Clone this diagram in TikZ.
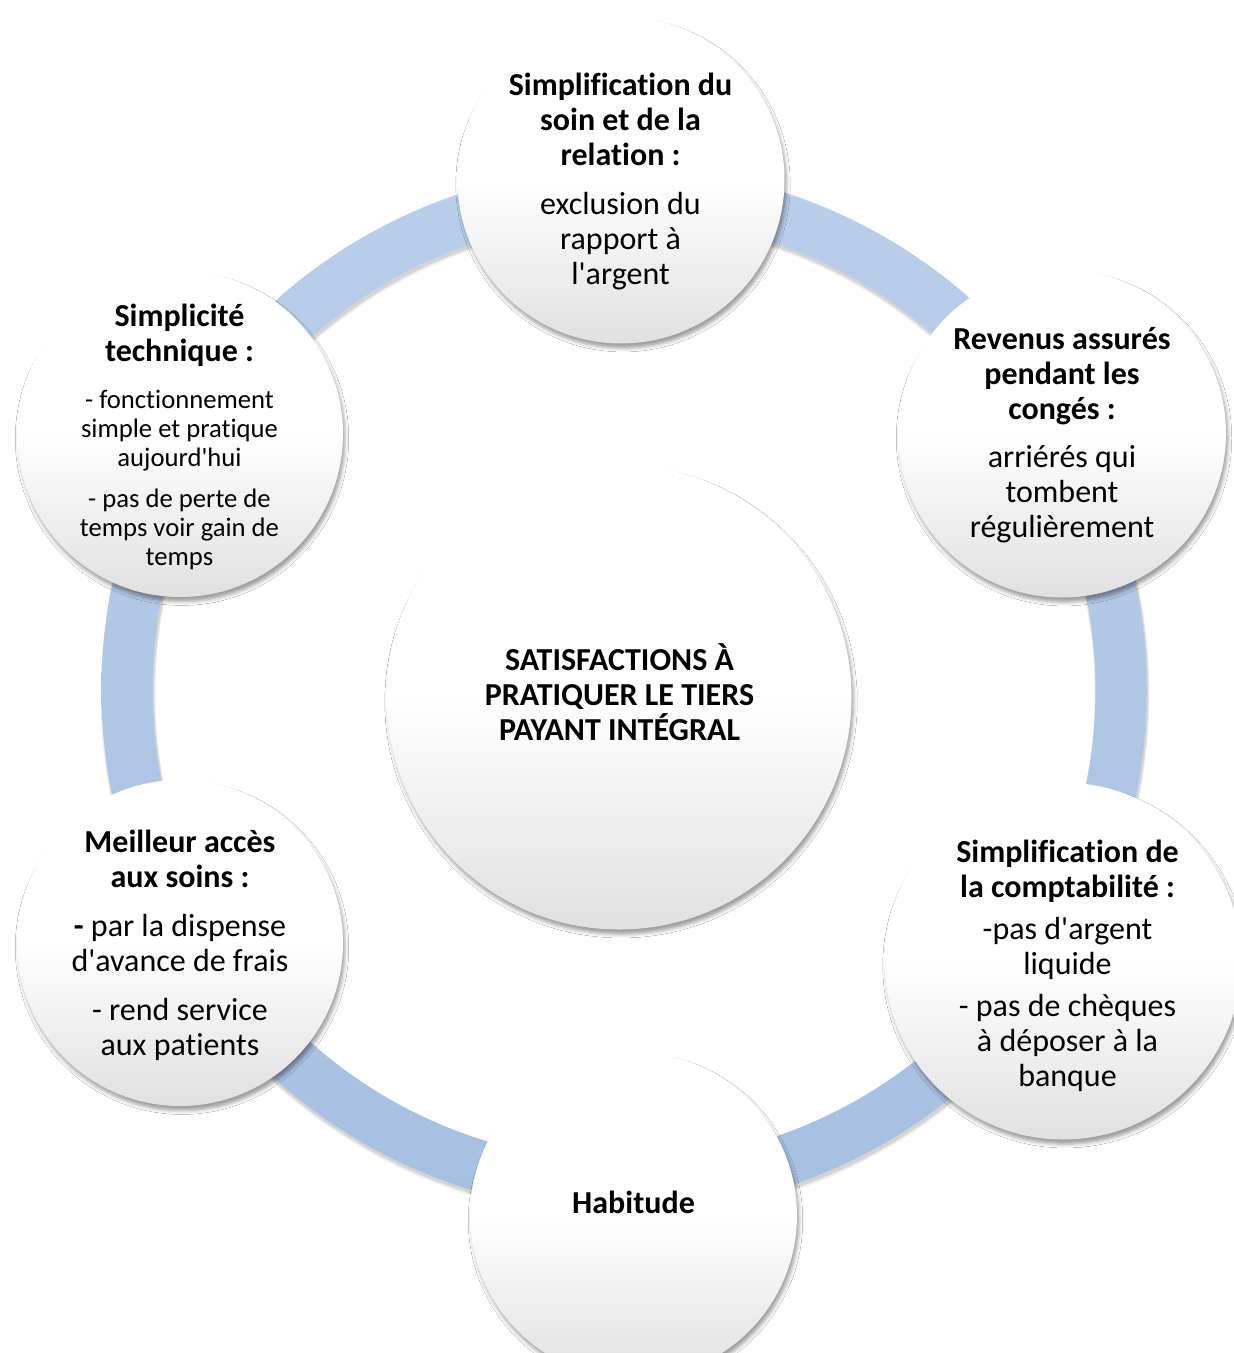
\documentclass[tikz,border=0pt]{standalone}
\usepackage{fontspec}
\setmainfont{Carlito}[Ligatures={TeXOff,NoCommon}]
\usetikzlibrary{shadows.blur}
\definecolor{ringA}{HTML}{B9CEEA}
\definecolor{ringB}{HTML}{A7BFE1}
\newcommand\ftitle{\fontsize{24}{26.25}\selectfont\bfseries}
\newcommand\fbody{\fontsize{24}{26.25}\selectfont}
\newcommand\fsmall{\fontsize{20}{21.75}\selectfont}
\newcommand\bubtext[1]{\parbox[t]{260pt}{\centering #1}}
\tikzset{
  bubble/.style={circle, draw=none, inner sep=0pt,
    top color=white, bottom color=black!12, middle color=white,
    blur shadow={shadow xshift=1.5pt, shadow yshift=-3.5pt, shadow blur radius=2.8pt, shadow opacity=38}},
  txt/.style={anchor=base, inner sep=0pt}
}
\begin{document}
\begin{tikzpicture}[x=0.75pt,y=-0.75pt]
\fill[white] (0,0) rectangle (1234,1353);
\useasboundingbox (0,0) rectangle (1234,1353);
% ring
\coordinate (rc) at (624,690);
\draw[line width=41pt, black, opacity=0.07] ([shift={(1,4)}]rc) circle[radius=372.75pt];
\draw[line width=39.5pt, black, opacity=0.10] ([shift={(1,3)}]rc) circle[radius=372.75pt];
\path[even odd rule, top color=ringA, bottom color=ringB]
  (rc) circle[radius=391.9pt] (rc) circle[radius=353.6pt];
% bubbles
\node[bubble, minimum size=245.25pt] (top) at (621,180) {};
\node[bubble, minimum size=246pt] (ur) at (1062,433.5) {};
\node[bubble, minimum size=267.75pt] (lr) at (1063,961) {};
\node[bubble, minimum size=245.25pt] (bot) at (633.5,1215.5) {};
\node[bubble, minimum size=244.5pt] (ll) at (180,943) {};
\node[bubble, minimum size=244.5pt] (ul) at (180,434) {};
\node[bubble, minimum size=348.75pt] (ctr) at (619,697) {};
% texts
\node[txt] (toptxt) at (620.5,95) {\bubtext{%
  {\ftitle Simplification du\\soin et de la\\relation :\par}\vspace{10.5pt}
  {\fbody exclusion du\\rapport à\\l'argent\par}}};
\node[txt] (urtxt) at (1062,349.5) {\bubtext{%
  {\ftitle Revenus assurés\\pendant les\\congés :\par}\vspace{10pt}
  {\fbody arriérés qui\\tombent\\régulièrement\par}}};
\node[txt] (lrtxt) at (1067.5,862) {\bubtext{%
  {\ftitle Simplification de\\la comptabilité :\par}\vspace{5.5pt}
  {\fbody -pas d'argent\\liquide\par}\vspace{5pt}
  {\fbody - pas de chèques\\à déposer à la\\banque\par}}};
\node[txt] (bottxt) at (633.5,1213.5) {\bubtext{{\ftitle Habitude\par}}};
\node[txt] (lltxt) at (180,852.5) {\bubtext{%
  {\ftitle Meilleur accès\\aux soins :\par}\vspace{10.5pt}
  {\fbody {\bfseries -} par la dispense\\d'avance de frais\par}\vspace{10.5pt}
  {\fbody - rend service\\aux patients\par}}};
\node[txt] (ultxt) at (179.5,326.5) {\bubtext{%
  {\ftitle Simplicité\\technique :\par}\vspace{13.5pt}
  {\fsmall - fonctionnement\\simple et pratique\\aujourd'hui\par}\vspace{9pt}
  {\fsmall - pas de perte de\\temps voir gain de\\temps\par}}};
\node[txt] (ctrtxt) at (619.5,670.5) {\bubtext{%
  {\ftitle SATISFACTIONS À\\PRATIQUER LE TIERS\\PAYANT INTÉGRAL\par}}};
\end{tikzpicture}
\end{document}
